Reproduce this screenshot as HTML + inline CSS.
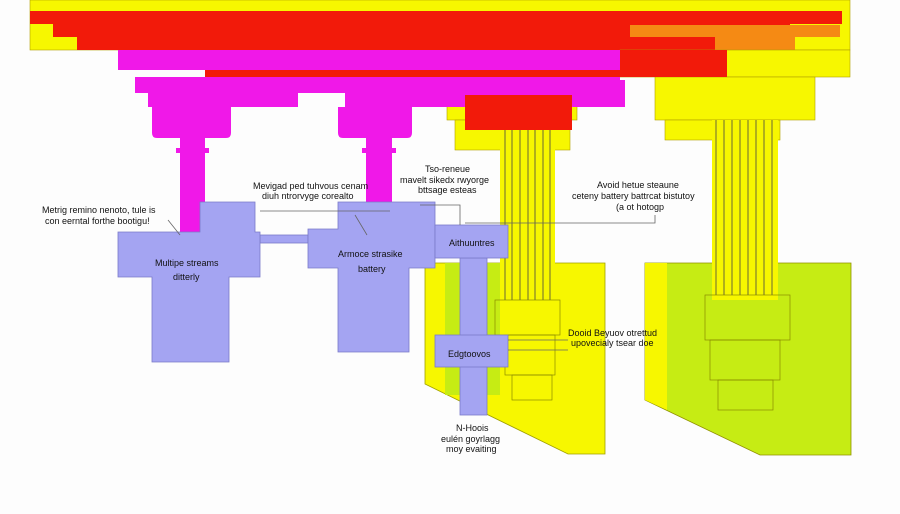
<!DOCTYPE html>
<html><head><meta charset="utf-8"><style>
html,body{margin:0;padding:0;background:#fff}
svg{display:block}
text{font-family:"Liberation Sans",sans-serif;font-size:9px;fill:#111}
</style></head><body>
<svg width="900" height="514" viewBox="0 0 900 514">
<rect width="900" height="514" fill="#fdfdfd"/>
<!-- top bands -->
<rect x="30" y="0" width="820" height="50" fill="#f7f700" stroke="#b0a000" stroke-width="0.6"/>
<rect x="30" y="11" width="812" height="13" fill="#f21a0a"/>
<rect x="53" y="24" width="737" height="13" fill="#f21a0a"/>
<rect x="77" y="37" width="640" height="13" fill="#f21a0a"/>
<rect x="630" y="25" width="210" height="12" fill="#f58a14"/>
<rect x="715" y="37" width="80" height="13" fill="#f58a14"/>
<!-- right yellow cap -->
<rect x="620" y="50" width="230" height="27" fill="#f7f700" stroke="#b0a000" stroke-width="0.6"/>
<rect x="655" y="77" width="160" height="43" fill="#f7f700" stroke="#b0a000" stroke-width="0.6"/>
<rect x="665" y="120" width="115" height="20" fill="#f7f700" stroke="#b0a000" stroke-width="0.6"/>
<!-- middle yellow step -->
<rect x="447" y="95" width="130" height="25" fill="#f7f700" stroke="#b0a000" stroke-width="0.6"/>
<rect x="455" y="120" width="115" height="30" fill="#f7f700" stroke="#b0a000" stroke-width="0.6"/>
<!-- magenta -->
<rect x="118" y="50" width="510" height="20" fill="#f018e8"/>
<rect x="620" y="50" width="107" height="27" fill="#f21a0a"/>
<rect x="205" y="70" width="522" height="7" fill="#f21a0a"/>
<rect x="135" y="77" width="485" height="16" fill="#f018e8"/>
<rect x="148" y="93" width="150" height="14" fill="#f018e8"/>
<rect x="345" y="80" width="280" height="27" fill="#f018e8"/>
<rect x="465" y="95" width="107" height="35" fill="#f21a0a"/>
<path d="M152 107h79v26q0 5-5 5h-69q-5 0-5-5z" fill="#f018e8"/>
<path d="M338 107h74v26q0 5-5 5h-64q-5 0-5-5z" fill="#f018e8"/>
<rect x="180" y="138" width="25" height="97" fill="#f018e8"/>
<rect x="176" y="148" width="33" height="5" fill="#f018e8"/>
<rect x="366" y="138" width="26" height="97" fill="#f018e8"/>
<rect x="362" y="148" width="34" height="5" fill="#f018e8"/>
<!-- panels -->
<polygon points="425,263 605,263 605,454 568,454 425,384" fill="#f7f700" stroke="#a0a000" stroke-width="0.8"/>
<rect x="445" y="263" width="55" height="132" fill="#c6ec14"/>
<polygon points="645,263 851,263 851,455 760,455 645,400" fill="#c6ec14" stroke="#909000" stroke-width="0.8"/>
<polygon points="645,263 667,263 667,410 645,400" fill="#f7f700"/>
<!-- columns -->
<rect x="500" y="130" width="55" height="175" fill="#f7f700"/>
<g stroke="#444" stroke-width="0.8">
<line x1="505" y1="130" x2="505" y2="300"/><line x1="512" y1="130" x2="512" y2="300"/><line x1="520" y1="130" x2="520" y2="300"/><line x1="528" y1="130" x2="528" y2="300"/><line x1="535" y1="130" x2="535" y2="300"/><line x1="543" y1="130" x2="543" y2="300"/><line x1="550" y1="130" x2="550" y2="300"/>
</g>
<rect x="712" y="120" width="66" height="180" fill="#f7f700"/>
<g stroke="#444" stroke-width="0.8">
<line x1="716" y1="120" x2="716" y2="295"/><line x1="724" y1="120" x2="724" y2="295"/><line x1="732" y1="120" x2="732" y2="295"/><line x1="740" y1="120" x2="740" y2="295"/><line x1="748" y1="120" x2="748" y2="295"/><line x1="756" y1="120" x2="756" y2="295"/><line x1="764" y1="120" x2="764" y2="295"/><line x1="772" y1="120" x2="772" y2="295"/>
</g>
<g fill="none" stroke="#8a8a00" stroke-width="0.7">
<rect x="495" y="300" width="65" height="35"/><rect x="505" y="335" width="50" height="40"/><rect x="512" y="375" width="40" height="25"/>
<rect x="705" y="295" width="85" height="45"/><rect x="710" y="340" width="70" height="40"/><rect x="718" y="380" width="55" height="30"/>
</g>
<!-- purple blocks -->
<g fill="#a4a4f2" stroke="#7a7ac8" stroke-width="0.8">
<rect x="260" y="235" width="48" height="8"/>
<polygon points="200,202 255,202 255,232 260,232 260,277 229,277 229,362 152,362 152,277 118,277 118,232 200,232"/>
<polygon points="338,202 435,202 435,268 409,268 409,352 338,352 338,268 308,268 308,229 338,229"/>
<rect x="460" y="258" width="27" height="157"/>
<rect x="435" y="225" width="73" height="33"/>
<rect x="435" y="335" width="73" height="32"/>
</g>
<!-- leader lines -->
<g stroke="#666" stroke-width="0.8" fill="none">
<path d="M260 211h130"/><path d="M465 223h190v-8"/><path d="M420 205h40v20"/><path d="M508 340h60"/><path d="M508 350h60"/><path d="M168 220l12 15"/><path d="M355 215l12 20"/>
</g>
<!-- labels -->
<text x="42" y="213">Metrig remino nenoto, tule is</text>
<text x="45" y="224">con eerntal forthe bootigu!</text>
<text x="253" y="189">Mevigad ped tuhvous cenam</text>
<text x="262" y="199">diuh ntrorvyge corealto</text>
<text x="425" y="172">Tso-reneue</text>
<text x="400" y="183">mavelt sikedx rwyorge</text>
<text x="418" y="193">bttsage esteas</text>
<text x="597" y="188">Avoid hetue steaune</text>
<text x="572" y="199">ceteny battery battrcat bistutoy</text>
<text x="616" y="210">(a ot hotogp</text>
<text x="155" y="266" font-size="10">Multipe streams</text>
<text x="173" y="280" font-size="10">ditterly</text>
<text x="338" y="257" font-size="10">Armoce strasike</text>
<text x="358" y="272" font-size="10">battery</text>
<text x="449" y="246">Aithuuntres</text>
<text x="448" y="357">Edgtoovos</text>
<text x="568" y="336">Dooid Beyuov otrettud</text>
<text x="571" y="346">upovecialy tsear doe</text>
<text x="456" y="431">N-Hoois</text>
<text x="441" y="442">eulén goyrlagg</text>
<text x="446" y="452">moy evaiting</text>
</svg>
</body></html>
